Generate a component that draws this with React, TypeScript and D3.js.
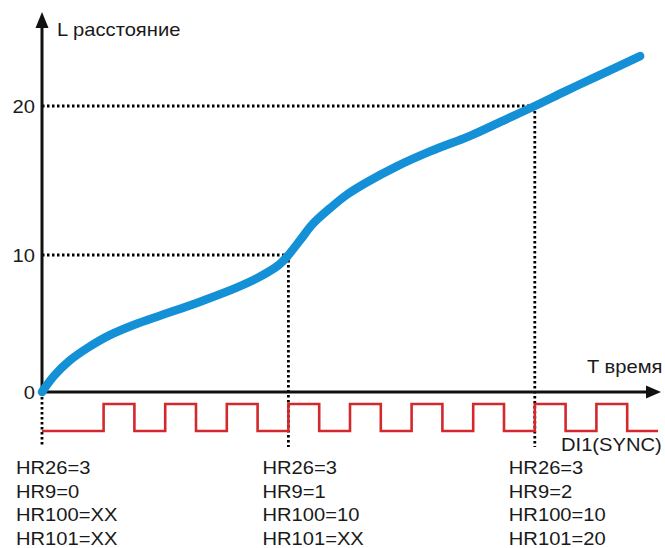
import React from 'react';
import * as d3 from 'd3';

// distance curve (time in sync periods, distance L)
const curveTime = [0, 0.2, 0.45, 0.75, 1.1, 1.55, 2.1, 2.6, 3.15, 3.55, 3.85, 4.0, 4.2, 4.4, 4.68, 4.95, 5.26, 5.76, 6.3, 6.95, 7.45, 8.0, 8.5, 9.0, 9.71];
const curveDist = [0, 1.2, 2.3, 3.25, 4.15, 5.0, 5.85, 6.65, 7.6, 8.45, 9.3, 10, 11.05, 12.1, 13.15, 14.05, 14.85, 15.95, 16.95, 18.0, 18.95, 20, 21.0, 21.97, 23.35];

// DI1(SYNC) pulses: rising edges, high for half a period
const pulseRises = [1, 2, 3, 4, 5, 6, 7, 8, 9];
const pulseWidth = 0.5;
const signalEnd = 10;

const yTicks = [0, 10, 20];
const markerTimes = [0, 4, 8];
const markerDist = [0, 10, 20];

const hr26 = ['3', '3', '3'];
const hr9 = ['0', '1', '2'];
const hr100 = ['XX', '10', '10'];
const hr101 = ['XX', 'XX', '20'];

const W = 665;
const H = 548;
const FONT = '"Liberation Sans", Arial, sans-serif';
const BLUE = '#1490d6';
const RED = '#d3282c';

const x = d3.scaleLinear().domain([0, 10]).range([42, 658]);
const y = d3.scaleLinear().domain([0, 10, 20]).range([392, 255, 106]);
const sig = d3.scaleLinear().domain([0, 1]).range([431, 404]);

const Label = ({x: tx, y: ty, anchor = 'start', children}: any) => (
    <text transform={`translate(${tx},${ty}) scale(1.12,1)`} textAnchor={anchor}
          fontFamily={FONT} fontSize={18} fill="#1a1a1a">{children}</text>
);

export default function App() {
    const line = d3.line<number>()
        .x((_, i) => x(curveTime[i]))
        .y(d => y(d))
        .curve(d3.curveCatmullRom.alpha(0.5));

    const pulsePts: [number, number][] = [[0, 0]];
    pulseRises.forEach(r => {
        pulsePts.push([r, 0], [r, 1], [r + pulseWidth, 1], [r + pulseWidth, 0]);
    });
    pulsePts.push([signalEnd, 0]);
    const pulseLine = d3.line<[number, number]>().x(d => x(d[0])).y(d => sig(d[1]));

    const x0 = x(0);
    const y0 = y(0);
    const dotBottom = 447;
    const dots = {stroke: '#000', strokeWidth: 2.8, strokeDasharray: '2.5 2.5', fill: 'none'};

    const rows = [['HR26', hr26], ['HR9', hr9], ['HR100', hr100], ['HR101', hr101]] as const;

    return (
        <svg width={W} height={H} style={{position: 'absolute', left: 0, top: 0, background: '#fff'}}>
            {/* dotted guides */}
            {markerTimes.map((t, i) => (
                <g key={'g' + i}>
                    {i > 0 && <line x1={x0} x2={x(t)} y1={y(markerDist[i])} y2={y(markerDist[i])} style={dots}/>}
                    <line x1={x(t)} x2={x(t)} y1={y(markerDist[i])} y2={dotBottom} style={dots}/>
                </g>
            ))}

            {/* axes */}
            <line x1={x0} x2={x0} y1={y0} y2={24} stroke="#111" strokeWidth={3}/>
            <path d={`M${x0},12 L${x0 - 6.5},28 L${x0 + 6.5},28 Z`} fill="#111"/>
            <line x1={x0} x2={648} y1={y0} y2={y0} stroke="#111" strokeWidth={3}/>
            <path d={`M661,${y0} L646,${y0 - 6.5} L646,${y0 + 6.5} Z`} fill="#111"/>

            {yTicks.map(v => (
                <Label key={v} x={35} y={y(v) + 6.5} anchor="end">{v}</Label>
            ))}
            <Label x={57} y={36}>L расстояние</Label>
            <Label x={587} y={373}>T время</Label>

            {/* sync signal */}
            <path d={pulseLine(pulsePts) || ''} fill="none" stroke={RED} strokeWidth={2.6}/>
            <Label x={561} y={451}>DI1(SYNC)</Label>

            {/* distance curve */}
            <path d={line(curveDist) || ''} fill="none" stroke={BLUE} strokeWidth={8.5} strokeLinecap="round"/>

            {/* register values */}
            {markerTimes.map((t, i) => (
                <g key={'r' + i}>
                    {rows.map(([name, vals], j) => (
                        <Label key={name} x={x(t) - 26} y={474 + j * 23.5}>{`${name}=${vals[i]}`}</Label>
                    ))}
                </g>
            ))}
        </svg>
    );
}
